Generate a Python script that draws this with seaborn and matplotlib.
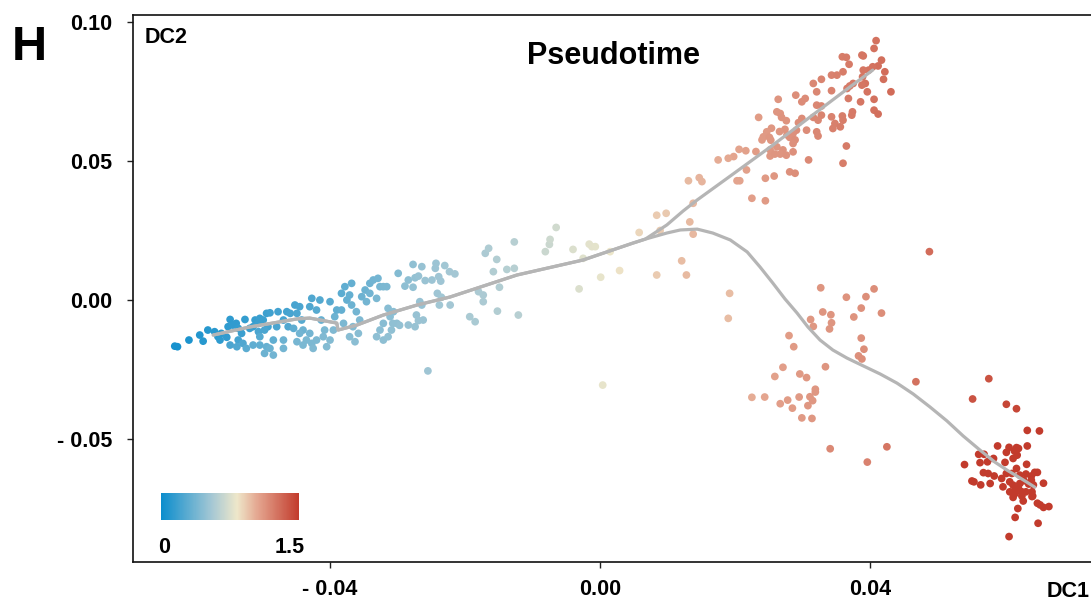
import numpy as np
import pandas as pd
import matplotlib
matplotlib.use('Agg')
import matplotlib.pyplot as plt
import seaborn as sns
from matplotlib.colors import LinearSegmentedColormap, Normalize
from matplotlib.cm import ScalarMappable

# diffusion components in units of 1e-3, third value = pseudotime
start_cells = [
    (-63.0, -16.6, 0.0), (-62.6, -16.8, 0.0), (-60.9, -14.4, 0.02), (-59.3, -12.6, 0.04),
    (-58.8, -14.8, 0.05), (-58.1, -10.8, 0.05), (-57.1, -11.4, 0.06), (-56.6, -13.2, 0.07),
    (-56.3, -14.4, 0.08), (-56.1, -12.0, 0.07), (-55.3, -13.4, 0.09), (-54.8, -7.0, 0.08),
    (-55.1, -9.6, 0.08), (-54.4, -9.0, 0.09), (-53.9, -8.4, 0.09), (-53.6, -10.2, 0.1),
    (-53.1, -12.0, 0.12), (-53.6, -14.4, 0.16), (-54.8, -16.2, 0.18), (-53.8, -16.8, 0.2),
    (-52.9, -15.6, 0.2), (-52.4, -17.4, 0.24), (-52.6, -7.0, 0.1), (-51.9, -10.2, 0.12),
    (-51.4, -9.6, 0.12), (-51.1, -7.2, 0.11), (-50.6, -8.4, 0.13), (-50.4, -6.6, 0.12),
    (-49.9, -7.2, 0.13), (-49.4, -4.8, 0.13), (-48.9, -4.6, 0.14), (-49.2, -9.6, 0.16),
    (-49.7, -10.8, 0.18), (-50.6, -11.4, 0.18), (-50.4, -13.2, 0.22), (-51.4, -16.2, 0.25),
    (-50.4, -16.2, 0.26), (-49.4, -16.8, 0.28), (-49.7, -19.2, 0.3), (-48.4, -19.8, 0.32),
    (-48.9, -17.4, 0.3), (-48.4, -14.4, 0.26), (-47.7, -4.2, 0.15), (-47.9, -9.6, 0.18),
    (-46.9, -7.2, 0.17), (-46.9, -14.4, 0.3), (-46.9, -17.4, 0.33), (-46.4, -4.2, 0.16),
    (-46.2, -9.6, 0.2), (-45.9, -4.8, 0.17), (-45.4, -10.2, 0.25), (-45.2, -1.8, 0.17),
    (-44.9, -4.8, 0.19), (-44.5, -2.4, 0.18), (-44.2, -7.2, 0.22), (-44.0, -10.8, 0.3),
    (-44.5, -12.0, 0.32), (-44.9, -15.0, 0.34), (-44.0, -16.2, 0.35), (-43.5, -14.4, 0.35),
    (-43.0, -12.0, 0.33), (-42.7, -15.6, 0.36), (-42.5, -17.4, 0.37), (-42.0, -14.4, 0.36),
    (-42.7, 0.6, 0.2), (-43.0, -2.4, 0.2), (-42.0, -3.6, 0.22), (-41.5, 0.0, 0.21),
    (-41.3, -7.2, 0.28), (-41.0, -13.2, 0.37), (-40.5, -16.8, 0.38), (-40.8, -10.8, 0.35),
    (-40.0, -14.4, 0.38), (-39.5, -10.8, 0.37), (-39.3, -6.0, 0.3), (-40.0, -0.6, 0.23),
    (-39.0, -3.6, 0.26), (-38.3, -3.6, 0.27), (-38.3, 2.4, 0.24), (-38.0, -8.4, 0.36),
    (-37.8, 4.8, 0.25), (-37.5, 0.0, 0.27), (-37.1, 1.8, 0.27), (-36.8, 6.0, 0.27),
    (-36.8, -1.8, 0.3), (-36.6, -9.6, 0.38), (-37.1, -13.2, 0.4), (-36.3, -15.0, 0.41),
    (-35.8, -12.0, 0.4), (-36.1, -4.2, 0.33), (-35.6, -7.2, 0.37), (-35.3, 1.2, 0.3),
    (-34.8, 3.6, 0.3), (-34.6, -0.6, 0.33), (-34.1, 6.0, 0.31), (-34.1, 2.4, 0.32),
    (-33.6, 7.2, 0.32), (-33.1, 0.6, 0.35), (-32.9, 7.8, 0.33), (-32.6, 4.8, 0.34),
    (-32.1, 4.8, 0.35), (-31.6, 4.8, 0.36), (-32.1, -8.4, 0.4), (-32.6, -10.8, 0.41),
    (-33.1, -13.2, 0.42), (-32.1, -14.4, 0.42), (-31.4, -3.0, 0.4), (-31.1, -6.0, 0.41),
    (-30.6, -4.2, 0.41), (-30.1, -8.4, 0.43), (-29.9, 9.6, 0.38), (-30.9, -10.8, 0.43),
    (-31.4, -13.2, 0.43), (-28.9, 5.0, 0.42), (-28.4, 7.2, 0.42), (-27.7, 12.8, 0.43),
    (-27.7, 4.6, 0.44), (-27.4, 8.0, 0.44), (-26.9, 8.6, 0.45), (-26.4, 12.0, 0.45),
    (-26.7, -0.6, 0.45), (-26.4, -1.8, 0.45), (-25.9, 7.0, 0.46), (-24.9, 7.2, 0.47),
    (-24.4, 11.4, 0.47), (-24.3, 13.2, 0.47), (-23.9, 8.4, 0.48), (-23.6, 6.8, 0.48),
    (-24.1, 2.4, 0.48), (-23.5, 1.0, 0.49), (-23.0, 12.4, 0.49), (-23.8, -1.8, 0.49),
    (-22.3, 10.2, 0.5), (-22.2, -1.8, 0.5), (-21.5, 9.4, 0.5), (-27.2, -5.4, 0.45),
    (-26.9, -7.4, 0.46), (-26.2, -7.2, 0.46), (-28.4, -9.0, 0.45), (-27.4, -9.6, 0.45),
    (-29.7, -9.1, 0.44), (-30.7, -8.4, 0.43),
]

middle_cells = [
    (-25.5, -25.5, 0.48), (-19.3, -6.0, 0.52), (-18.5, -7.8, 0.52), (-18.0, 3.0, 0.53),
    (-17.3, 1.8, 0.53), (-17.3, -0.6, 0.53), (-17.0, 16.8, 0.53), (-16.5, 18.6, 0.54),
    (-15.8, 10.2, 0.55), (-15.3, 14.6, 0.55), (-15.2, -4.0, 0.55), (-14.9, 4.6, 0.55),
    (-13.8, 11.0, 0.56), (-12.7, 20.9, 0.57), (-12.7, 11.4, 0.57), (-12.1, -5.4, 0.57),
    (-8.1, 17.4, 0.64), (-7.5, 20.0, 0.64), (-7.4, 21.8, 0.65), (-6.5, 26.1, 0.66),
    (-4.0, 18.2, 0.7), (-3.1, 4.0, 0.7), (-2.5, 15.0, 0.72), (-1.6, 20.1, 0.73),
    (-1.2, 19.2, 0.73), (-0.7, 19.2, 0.74), (0.1, 8.2, 0.75), (0.4, -30.6, 0.75),
    (1.5, 17.4, 0.77), (2.9, 10.6, 0.79), (5.8, 24.3, 0.83), (8.4, 30.5, 0.87),
    (9.8, 31.2, 0.88), (8.9, 25.0, 0.87), (8.4, 9.0, 0.87), (12.1, 14.1, 0.92),
    (12.8, 9.0, 0.93), (13.3, 28.1, 0.93), (13.8, 23.7, 0.94),
]

upper_cells = [
    (40.9, 93.3, 1.22), (40.6, 90.5, 1.22), (38.8, 88.1, 1.2), (39.0, 87.8, 1.2),
    (35.9, 87.5, 1.17), (36.5, 87.3, 1.18), (36.9, 84.8, 1.18), (41.7, 86.3, 1.23),
    (41.2, 84.2, 1.23), (40.4, 83.9, 1.22), (39.8, 82.7, 1.21), (39.0, 82.7, 1.2),
    (42.2, 82.1, 1.24), (42.0, 79.4, 1.23), (43.1, 74.9, 1.25), (36.0, 82.1, 1.17),
    (34.3, 80.9, 1.15), (35.1, 80.9, 1.16), (32.8, 79.4, 1.14), (38.9, 80.3, 1.2),
    (39.3, 77.9, 1.21), (39.6, 74.9, 1.21), (38.8, 77.3, 1.2), (37.5, 77.9, 1.19),
    (37.0, 77.0, 1.18), (36.6, 76.1, 1.18), (31.6, 77.9, 1.13), (32.1, 74.9, 1.13),
    (34.3, 75.3, 1.15), (36.8, 72.5, 1.18), (38.6, 71.3, 1.2), (40.6, 72.2, 1.22),
    (40.6, 68.3, 1.22), (41.2, 66.9, 1.23), (30.4, 72.5, 1.11), (29.9, 71.3, 1.11),
    (29.0, 73.7, 1.1), (32.1, 70.1, 1.13), (26.4, 72.2, 1.07), (23.5, 65.7, 1.04),
    (26.2, 67.7, 1.07), (26.7, 67.1, 1.07), (26.9, 65.7, 1.08), (27.6, 64.5, 1.08),
    (29.9, 65.3, 1.11), (29.4, 63.8, 1.1), (31.6, 65.7, 1.13), (32.8, 69.8, 1.14),
    (32.8, 66.5, 1.14), (32.3, 64.7, 1.13), (34.3, 65.9, 1.15), (34.8, 63.5, 1.16),
    (35.9, 66.2, 1.17), (36.0, 64.7, 1.17), (35.6, 62.3, 1.17), (37.3, 66.5, 1.19),
    (37.4, 67.7, 1.19), (34.5, 61.7, 1.16), (32.1, 60.5, 1.13), (32.3, 59.0, 1.13),
    (30.6, 61.1, 1.11), (29.1, 61.1, 1.1), (28.6, 59.9, 1.09), (27.4, 61.4, 1.08),
    (27.7, 59.4, 1.08), (28.1, 58.5, 1.09), (28.9, 57.6, 1.1), (25.4, 61.8, 1.06),
    (24.7, 60.5, 1.05), (24.2, 58.7, 1.05), (24.0, 57.6, 1.05), (25.1, 58.5, 1.06),
    (25.3, 57.5, 1.06), (26.6, 60.6, 1.07), (26.2, 55.1, 1.07), (27.1, 54.0, 1.08),
    (28.6, 53.3, 1.09), (28.6, 56.3, 1.09), (25.2, 54.0, 1.06), (25.2, 51.8, 1.06),
    (25.9, 52.5, 1.07), (26.7, 52.5, 1.07), (27.6, 52.1, 1.08), (23.1, 53.4, 1.04),
    (20.6, 54.2, 1.01), (21.6, 53.7, 1.02), (19.8, 51.6, 1.0), (19.0, 51.0, 0.99),
    (17.5, 50.4, 0.98), (21.7, 46.8, 1.02), (20.3, 42.9, 1.01), (20.7, 42.9, 1.01),
    (24.5, 43.8, 1.05), (25.8, 44.6, 1.06), (28.1, 46.1, 1.09), (28.9, 45.6, 1.1),
    (30.9, 50.4, 1.12), (36.5, 55.4, 1.18), (36.0, 49.2, 1.17), (13.1, 42.9, 0.93),
    (14.7, 44.0, 0.95), (15.1, 42.6, 0.95), (22.5, 36.6, 1.03), (24.5, 35.7, 1.05),
    (13.8, 34.8, 0.94),
]

lower_mid_cells = [
    (19.2, 2.4, 0.92), (19.0, -6.6, 0.92), (32.7, 4.4, 1.07), (36.5, 1.0, 1.08),
    (39.4, 1.2, 1.1), (40.6, 4.0, 1.1), (33.0, -4.3, 1.07), (34.2, -5.3, 1.07),
    (34.3, -8.2, 1.07), (34.0, -10.4, 1.07), (31.2, -7.0, 1.06), (31.6, -9.5, 1.06),
    (38.7, -2.9, 1.09), (37.6, -6.1, 1.08), (41.7, -4.7, 1.1), (38.7, -13.7, 1.09),
    (39.1, -17.7, 1.1), (38.3, -20.1, 1.09), (38.8, -21.2, 1.1), (28.0, -12.8, 1.04),
    (28.7, -16.8, 1.05), (27.1, -24.2, 1.03), (25.9, -27.5, 1.02), (29.6, -26.6, 1.05),
    (30.6, -27.9, 1.06), (33.4, -24.0, 1.07), (31.9, -32.1, 1.06), (31.9, -33.1, 1.06),
    (31.1, -34.8, 1.06), (31.5, -36.2, 1.06), (29.5, -34.9, 1.05), (27.8, -36.0, 1.04),
    (26.7, -37.3, 1.03), (28.5, -38.9, 1.04), (30.8, -38.0, 1.06), (29.9, -42.4, 1.05),
    (31.4, -42.6, 1.06), (22.5, -35.0, 0.98), (24.4, -34.9, 1.0), (34.1, -53.5, 1.12),
    (39.6, -58.3, 1.15), (42.5, -52.8, 1.2), (46.8, -29.4, 1.22), (48.8, 17.4, 1.24),
    (57.6, -28.3, 1.35), (55.2, -35.6, 1.35), (60.2, -37.5, 1.4), (61.7, -39.1, 1.4),
]

end_cells = [
    (63.3, -46.9), (65.1, -47.1), (54.0, -59.2), (58.9, -52.5), (60.6, -53.0), (61.7, -53.1),
    (62.0, -53.4), (63.3, -52.5), (56.1, -55.5), (56.9, -55.5), (60.2, -54.8), (61.4, -54.3),
    (61.8, -55.8), (56.3, -58.5), (57.4, -58.2), (58.3, -57.0), (60.0, -58.4), (61.2, -57.0),
    (63.2, -59.1), (56.8, -62.1), (57.5, -62.4), (58.4, -63.3), (59.5, -64.2), (60.2, -62.4),
    (61.0, -62.4), (61.7, -60.6), (62.2, -63.0), (63.1, -62.6), (63.9, -63.3), (64.4, -62.0),
    (64.8, -62.0), (55.1, -65.1), (55.4, -65.4), (56.4, -66.5), (57.8, -66.0), (59.7, -67.2),
    (60.7, -65.4), (61.2, -66.6), (61.5, -68.3), (62.0, -67.8), (62.2, -66.0), (62.8, -65.0),
    (63.5, -66.2), (63.9, -64.8), (64.2, -66.5), (65.7, -65.9), (60.7, -69.0), (61.5, -69.6),
    (62.5, -69.0), (63.1, -69.0), (64.0, -69.0), (64.1, -70.5), (61.2, -71.0), (62.5, -70.5),
    (62.7, -72.3), (64.0, -70.7), (64.8, -73.1), (65.2, -73.7), (65.7, -74.6), (66.5, -74.3),
    (61.9, -75.0), (61.5, -78.2), (64.9, -80.3), (60.6, -85.1),
]
end_pseudotime = 1.45

# principal curves (1e-3 units)
trunk_dc1 = [-57.3, -51.9, -44.9, -43.0, -39.0, -38.8, -36.0, -32.1, -27.1, -22.2,
             -12.3, -2.5, 4.9, 6.7]
trunk_dc2 = [-12.6, -9.7, -6.8, -6.5, -8.3, -10.8, -9.0, -5.4, -1.8, 1.1,
             9.0, 14.4, 20.5, 21.9]
upper_dc1 = [6.7, 9.9, 12.3, 14.4, 19.3, 25.2, 31.1, 37.0, 40.4]
upper_dc2 = [21.9, 27.0, 32.0, 36.0, 44.6, 55.0, 65.8, 76.6, 82.7]
lower_dc1 = [6.7, 9.9, 11.9, 14.4, 16.7, 19.3, 21.8, 23.7, 25.6, 27.4, 29.2, 30.8, 32.6,
             34.5, 36.6, 39.0, 41.5, 44.0, 46.4, 48.9, 51.4, 53.8, 56.3, 58.5, 60.3,
             62.7, 64.4]
lower_dc2 = [21.9, 24.1, 25.2, 25.5, 24.1, 21.6, 17.3, 11.9, 6.1, 0.4, -4.7, -9.7, -14.4,
             -18.0, -20.9, -23.7, -26.6, -29.9, -33.8, -38.5, -43.5, -48.9, -54.0, -58.3,
             -61.2, -64.7, -67.3]

xticks = [-0.04, 0.0, 0.04]
xtick_labels = ['- 0.04', '0.00', '0.04']
yticks = [-0.05, 0.0, 0.05, 0.10]
ytick_labels = ['- 0.05', '0.00', '0.05', '0.10']

pt_colors = ['#0b8dcd', '#a6c8d4', '#eee7ca', '#e4a690', '#c23b2c']
pt_stops = [0.0, 0.37, 0.55, 0.70, 1.0]

# ---- build table
frames = [pd.DataFrame(lst, columns=['DC1', 'DC2', 'pseudotime'])
          for lst in (start_cells, middle_cells, upper_cells, lower_mid_cells)]
end_df = pd.DataFrame(end_cells, columns=['DC1', 'DC2'])
end_df['pseudotime'] = end_pseudotime
frames.append(end_df)
cells = pd.concat(frames, ignore_index=True)
cells[['DC1', 'DC2']] *= 1e-3

cmap = LinearSegmentedColormap.from_list('pt', list(zip(pt_stops, pt_colors)))
norm = Normalize(vmin=-0.05, vmax=1.45)

sns.set_style('white')
plt.rcParams['font.family'] = ['Liberation Sans', 'DejaVu Sans']
plt.rcParams['font.weight'] = 'bold'
plt.rcParams['text.color'] = 'black'
plt.rcParams['xtick.color'] = 'black'
plt.rcParams['ytick.color'] = 'black'

fig = plt.figure(figsize=(10.91, 6.03), dpi=100)
ax = fig.add_axes([0.1219, 0.0680, 0.8781, 0.9076])

sns.scatterplot(data=cells, x='DC1', y='DC2', hue='pseudotime', palette=cmap,
                hue_norm=norm, s=31, linewidth=0, legend=False, ax=ax, zorder=2)

for cx, cy in [(trunk_dc1 + upper_dc1[1:], trunk_dc2 + upper_dc2[1:]),
               (trunk_dc1 + lower_dc1[1:], trunk_dc2 + lower_dc2[1:])]:
    sns.lineplot(x=np.array(cx) * 1e-3, y=np.array(cy) * 1e-3, sort=False,
                 estimator=None, color='#b5b5b5', linewidth=2.3, ax=ax, zorder=3,
                 solid_joinstyle='round')

ax.set_xlim(-0.06919, 0.07274)
ax.set_ylim(-0.09424, 0.10263)
ax.set_xticks(xticks, labels=xtick_labels)
ax.set_yticks(yticks, labels=ytick_labels)
ax.set_xlabel('')
ax.set_ylabel('')
ax.tick_params(axis='both', direction='out', length=4, width=1, color='#222222',
               labelcolor='black', labelsize=15.5, left=True, bottom=True)
ax.tick_params(axis='x', pad=8)
ax.tick_params(axis='y', pad=11)
for lbl in ax.get_xticklabels() + ax.get_yticklabels():
    lbl.set_fontweight('bold')
ax.spines['right'].set_visible(False)
for s in ['left', 'bottom', 'top']:
    ax.spines[s].set_linewidth(1.2)
    ax.spines[s].set_color('#111111')

# colour bar inside the plot
cax = fig.add_axes([0.1476, 0.1376, 0.1265, 0.0448])
cb = fig.colorbar(ScalarMappable(norm=norm, cmap=cmap), cax=cax, orientation='horizontal',
                  ticks=[0.5, 1.0])
cb.outline.set_visible(False)
cax.tick_params(top=True, bottom=True, direction='in', length=3, width=1,
                color='white', labelbottom=False)
cax.text(0.022, -1.22, '0', transform=cax.transAxes, ha='center', va='baseline',
         fontsize=15.5, fontweight='bold', color='black')
cax.text(0.935, -1.22, '1.5', transform=cax.transAxes, ha='center', va='baseline',
         fontsize=15.5, fontweight='bold', color='black')

fig.text(0.011, 0.9005, 'H', fontsize=35, fontweight='bold', ha='left', va='baseline')
fig.text(0.1329, 0.9287, 'DC2', fontsize=15.5, fontweight='bold', ha='left', va='baseline')
fig.text(0.5619, 0.8939, 'Pseudotime', fontsize=22, fontweight='bold', ha='center', va='baseline')
fig.text(0.9597, 0.0100, 'DC1', fontsize=15.5, fontweight='bold', ha='left', va='baseline')

fig.savefig('out.png', dpi=100)
